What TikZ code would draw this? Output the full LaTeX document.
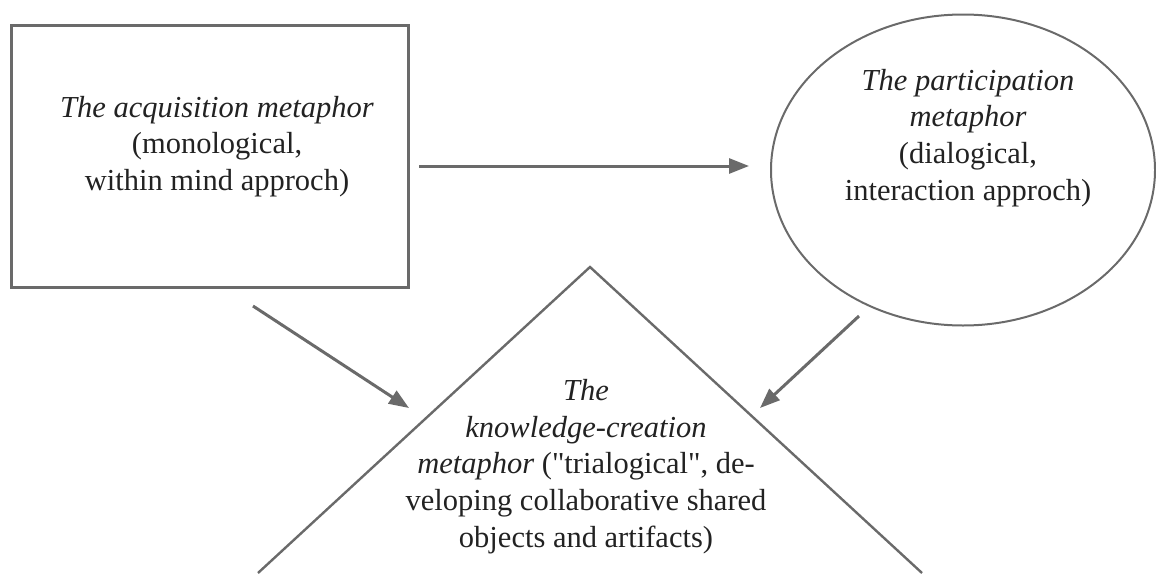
\documentclass[tikz,border=0pt]{standalone}
\usepackage{fontspec}
\setmainfont{Liberation Serif}
\usetikzlibrary{arrows.meta,shapes.geometric}
\definecolor{linegray}{HTML}{6A6A6A}
\definecolor{textgray}{HTML}{222222}
\tikzset{
  shapeline/.style={draw=linegray, line width=2.6pt},
  txt/.style={align=center, text=textgray, inner sep=0pt, font=\fontsize{30.5}{36.8}\selectfont},
  arr/.style={draw=linegray, line width=3pt, -{Triangle[length=20pt,width=15pt]}},
}
\begin{document}
\begin{tikzpicture}[x=1pt,y=-1pt]
\useasboundingbox (0,0) rectangle (1156,573);
% acquisition box
\node[shapeline, line width=3pt, rectangle, minimum width=397pt, minimum height=262pt, inner sep=0pt] (acq) at (209.5,156) {};
\node[txt] (acqtxt) at (217,146.5) {\textit{The acquisition metaphor}\\(monological,\\within mind approch)};
% participation ellipse
\node[shapeline, line width=2pt, ellipse, minimum width=384pt, minimum height=311pt, inner sep=0pt] (par) at (963,170) {};
\node[txt] (partxt) at (968,138) {\textit{The participation}\\\textit{metaphor}\\(dialogical,\\interaction approch)};
% knowledge-creation triangle (cut by the lower edge)
\coordinate (apex) at (590,267);
\coordinate (tl) at (258,573);
\coordinate (tr) at (922,573);
\draw[shapeline, line width=2.4pt, line join=miter] (tl) -- (apex) -- (tr);
\node[txt] (kctxt) at (586,466.5) {\textit{The}\\\textit{knowledge-creation}\\\textit{metaphor} (\textquotedbl trialogical\textquotedbl, de-\\veloping collaborative shared\\objects and artifacts)};
% connectors
\coordinate (a1s) at (419,166);
\coordinate (a1e) at (749,166);
\coordinate (a2s) at (253,306);
\coordinate (a2e) at (409,408);
\coordinate (a3s) at (859,316);
\coordinate (a3e) at (760,408);
\draw[arr] (a1s) -- (a1e);
\draw[arr] (a2s) -- (a2e);
\draw[arr] (a3s) -- (a3e);
\end{tikzpicture}
\end{document}
